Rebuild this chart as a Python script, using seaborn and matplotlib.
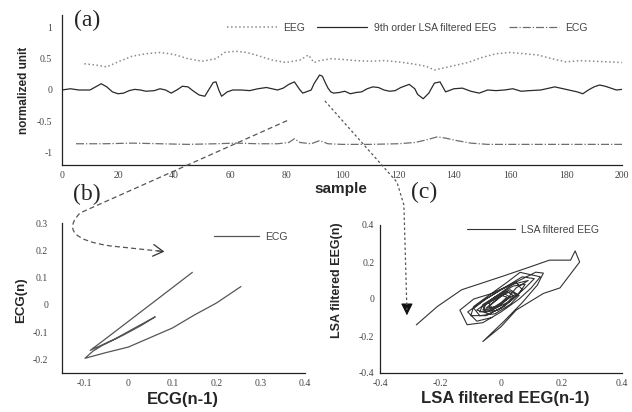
import matplotlib
matplotlib.use("Agg")
import matplotlib.pyplot as plt
import seaborn as sns
import numpy as np
import pandas as pd
from matplotlib.path import Path
from matplotlib.patches import PathPatch

# ---------------- data ----------------
# (a) time series
eeg_sample = [8, 12, 16, 20, 25, 30, 35, 40, 45, 50, 55, 58, 62, 66, 70, 75, 80, 85, 88, 90,
              92, 96, 100, 105, 110, 115, 120, 125, 130, 133, 137, 141, 145, 150, 155, 160,
              165, 170, 175, 180, 185, 190, 195, 200]
eeg_value = [0.42, 0.40, 0.37, 0.45, 0.54, 0.58, 0.60, 0.57, 0.50, 0.46, 0.50, 0.60, 0.62, 0.60,
             0.55, 0.48, 0.44, 0.48, 0.56, 0.44, 0.47, 0.50, 0.49, 0.47, 0.46, 0.47, 0.45, 0.42,
             0.38, 0.32, 0.36, 0.40, 0.44, 0.52, 0.58, 0.60, 0.58, 0.56, 0.50, 0.45, 0.47, 0.46,
             0.45, 0.44]

lsa_sample = [0, 3, 6, 10, 12, 14, 16, 18, 20, 22, 24, 26, 28, 30, 33, 35, 37, 39, 41, 43, 45,
              47, 49, 51, 54, 55, 56, 57, 59, 61, 64, 67, 70, 73, 75, 77, 79, 81, 83, 85, 86,
              89, 90, 92, 93, 94, 95, 96, 97, 99, 101, 103, 105, 107, 109, 111, 113, 115, 117,
              119, 121, 124, 126, 127, 129, 131, 133, 135, 137, 140, 143, 146, 149, 152, 155,
              158, 161, 164, 167, 171, 174, 176, 179, 181, 184, 186, 188, 190, 192, 194, 196,
              198, 200]
lsa_value = [0.0, 0.02, 0.0, 0.0, 0.05, 0.10, 0.05, -0.03, -0.06, -0.05, -0.01, 0.01, 0.0, -0.02,
             -0.01, 0.02, 0.0, -0.05, 0.0, 0.06, 0.05, -0.02, -0.08, -0.10, 0.12, 0.13, 0.0,
             -0.10, -0.03, 0.0, 0.0, -0.01, 0.02, 0.04, 0.02, 0.0, 0.03, 0.09, 0.13, 0.0, -0.05,
             0.0, 0.10, 0.24, 0.22, 0.12, 0.03, -0.03, -0.05, -0.04, -0.02, -0.06, -0.04, -0.03,
             0.02, 0.05, 0.04, 0.0, -0.02, -0.01, 0.04, 0.09, 0.02, -0.07, -0.14, -0.05, 0.11,
             0.13, -0.03, 0.02, 0.03, -0.02, -0.05, 0.0, -0.01, 0.0, 0.02, -0.02, -0.01, 0.0,
             0.03, 0.05, 0.02, 0.0, -0.03, -0.06, 0.0, 0.05, 0.08, 0.06, 0.03, 0.0, 0.01]

ecg_sample = [5, 15, 25, 35, 45, 55, 62, 70, 77, 81, 83, 85, 89, 92, 95, 100, 110, 120, 126,
              130, 134, 137, 141, 146, 152, 160, 170, 180, 190, 200]
ecg_value = [-0.86, -0.86, -0.85, -0.86, -0.87, -0.86, -0.85, -0.86, -0.86, -0.84, -0.78, -0.84,
             -0.86, -0.81, -0.86, -0.87, -0.87, -0.86, -0.84, -0.80, -0.75, -0.77, -0.81, -0.85,
             -0.87, -0.87, -0.87, -0.87, -0.87, -0.87]

a_xticks = [0, 20, 40, 60, 80, 100, 120, 140, 160, 180, 200]
a_yticks = [-1, -0.5, 0, 0.5, 1]
a_yticklabels = ["-1", "-0.5", "0", "0.5", "1"]

# (b) ECG phase plot
b_ecg_prev = [0.145, 0.10, 0.05, 0.00, -0.05, -0.086, -0.07, -0.03, 0.02, 0.061, 0.03, -0.01,
              -0.06, -0.08, -0.098, -0.05, 0.00, 0.05, 0.10, 0.15, 0.20, 0.255]
b_ecg_now = [0.119, 0.063, 0.001, -0.061, -0.123, -0.167, -0.155, -0.125, -0.08, -0.044,
             -0.075, -0.11, -0.15, -0.17, -0.196, -0.175, -0.155, -0.12, -0.085, -0.037,
             0.007, 0.067]
b_xticks = [-0.1, 0, 0.1, 0.2, 0.3, 0.4]
b_xticklabels = ["-0.1", "0", "0.1", "0.2", "0.3", "0.4"]
b_yticks = [-0.2, -0.1, 0, 0.1, 0.2, 0.3]
b_yticklabels = ["-0.2", "-0.1", "0", "0.1", "0.2", "0.3"]

# (c) LSA filtered EEG phase plot
c_eeg_prev = [-0.28, -0.21, -0.13, 0.00, 0.09, 0.16, 0.23, 0.245, 0.26, 0.195, 0.14, 0.05, 0.00,
              -0.06, 0.01, 0.07, 0.12, 0.14, 0.115, 0.06, -0.03, -0.09, -0.136, -0.112, -0.06,
              0.00, 0.06, 0.10, 0.13, 0.063, 0.02, -0.04, -0.09, -0.10, -0.05, 0.01, 0.06, 0.08,
              0.04, -0.01, -0.06, -0.07, -0.03, 0.02, 0.05, 0.03, -0.02, -0.05, -0.06, -0.02,
              0.01, 0.04, 0.02, -0.01, -0.04, -0.03, 0.00, 0.03, 0.01, -0.02, -0.05, -0.01, 0.02,
              0.05, 0.09, 0.04, -0.03, -0.08, -0.04, 0.00, 0.04, 0.07, 0.05, 0.00, -0.05, -0.09,
              -0.07, -0.02, 0.03, 0.06, 0.03, -0.01, -0.04, -0.03, 0.00, 0.02, 0.00, -0.03,
              -0.06, -0.05, -0.01, 0.03, 0.08, 0.11, 0.07, 0.01, -0.06, -0.11, -0.08, -0.03]
c_eeg_now = [-0.14, -0.04, 0.05, 0.12, 0.17, 0.21, 0.21, 0.26, 0.20, 0.06, 0.03, -0.06, -0.15,
             -0.23, -0.12, -0.02, 0.075, 0.14, 0.145, 0.10, 0.03, 0.00, -0.06, -0.139, -0.128,
             -0.07, 0.00, 0.06, 0.12, 0.144, 0.09, 0.02, -0.04, -0.09, -0.09, -0.04, 0.03, 0.08,
             0.07, 0.02, -0.03, -0.07, -0.06, -0.02, 0.03, 0.05, 0.01, -0.03, -0.06, -0.05,
             -0.01, 0.02, 0.04, 0.00, -0.04, -0.06, -0.03, 0.01, 0.03, -0.01, -0.05, -0.04, 0.00,
             0.06, 0.10, 0.08, 0.00, -0.06, -0.08, -0.05, 0.00, 0.05, 0.09, 0.05, 0.00, -0.05,
             -0.09, -0.08, -0.03, 0.02, 0.04, 0.01, -0.02, -0.05, -0.02, 0.01, 0.02, -0.01,
             -0.04, -0.07, -0.06, -0.01, 0.06, 0.11, 0.12, 0.06, -0.01, -0.07, -0.12, -0.10]
c_ticks = [-0.4, -0.2, 0, 0.2, 0.4]
c_ticklabels = ["-0.4", "-0.2", "0", "0.2", "0.4"]

# ---------------- style ----------------
sns.set_theme(style="white")
plt.rcParams['font.family'] = ['Liberation Sans', 'DejaVu Sans']
plt.rcParams['axes.edgecolor'] = '#222222'
plt.rcParams['axes.linewidth'] = 0.9

W, H = 632, 412
fig = plt.figure(figsize=(W / 100, H / 100), dpi=100)
fig.patch.set_facecolor('white')


def rect(l, t, r, b):
    return [l / W, 1 - b / H, (r - l) / W, (b - t) / H]


ax_a = fig.add_axes(rect(62, 15, 622, 165))
ax_b = fig.add_axes(rect(62, 223, 305, 373))
ax_c = fig.add_axes(rect(380, 225, 622, 373))

# ---- (a) ----
sns.lineplot(x=eeg_sample, y=eeg_value, ax=ax_a, color='#8c8c8c', linestyle=':', lw=1.1,
             sort=False, label='EEG')
sns.lineplot(x=lsa_sample, y=lsa_value, ax=ax_a, color='#2a2a2a', linestyle='-', lw=0.9,
             sort=False, label='9th order LSA filtered EEG')
sns.lineplot(x=ecg_sample, y=ecg_value, ax=ax_a, color='#6e6e6e', linestyle='-.', lw=0.9,
             sort=False, label='ECG')
ax_a.set_xlim(0, 200)
ax_a.set_ylim(-1.2, 1.2)
ax_a.set_xticks(a_xticks)
ax_a.set_xticklabels([str(v) for v in a_xticks])
ax_a.set_yticks(a_yticks)
ax_a.set_yticklabels(a_yticklabels)
ax_a.legend(loc='center', bbox_to_anchor=(0.616, 0.913), ncol=3, frameon=False, fontsize=7.5,
            handlelength=4.8, handletextpad=0.6, columnspacing=1.2, labelcolor='#444444')
ax_a.set_xlabel('sample', fontsize=11, fontweight='bold')
ax_a.set_ylabel('normalized unit', fontsize=8.5, fontweight='bold')
ax_a.xaxis.set_label_coords(0.498, -0.115)
ax_a.yaxis.set_label_coords(-0.058, 0.5)

# ---- (b) ----
sns.lineplot(x=b_ecg_prev, y=b_ecg_now, ax=ax_b, color='#555555', lw=0.9, sort=False,
             estimator=None, label='ECG')
ax_b.set_xlim(-0.15, 0.4)
ax_b.set_ylim(-0.25, 0.3)
ax_b.set_xticks(b_xticks)
ax_b.set_xticklabels(b_xticklabels)
ax_b.set_yticks(b_yticks)
ax_b.set_yticklabels(b_yticklabels)
ax_b.legend(loc='center', bbox_to_anchor=(0.778, 0.907), frameon=False, fontsize=7.5,
            handlelength=4.3, handletextpad=0.6, labelcolor='#444444')
ax_b.set_xlabel('ECG(n-1)', fontsize=12, fontweight='bold')
ax_b.set_ylabel('ECG(n)', fontsize=9.5, fontweight='bold')
ax_b.xaxis.set_label_coords(0.498, -0.125)
ax_b.yaxis.set_label_coords(-0.145, 0.487)

# ---- (c) ----
sns.lineplot(x=c_eeg_prev, y=c_eeg_now, ax=ax_c, color='#333333', lw=0.8, sort=False,
             estimator=None, label='LSA filtered EEG')
ax_c.set_xlim(-0.4, 0.4)
ax_c.set_ylim(-0.4, 0.4)
ax_c.set_xticks(c_ticks)
ax_c.set_xticklabels(c_ticklabels)
ax_c.set_yticks(c_ticks)
ax_c.set_yticklabels(c_ticklabels)
ax_c.legend(loc='center', bbox_to_anchor=(0.632, 0.966), frameon=False, fontsize=7.5,
            handlelength=4.6, handletextpad=0.5, labelcolor='#444444')
ax_c.set_xlabel('LSA filtered EEG(n-1)', fontsize=12, fontweight='bold')
ax_c.set_ylabel('LSA filtered EEG(n)', fontsize=9, fontweight='bold')
ax_c.xaxis.set_label_coords(0.517, -0.125)
ax_c.yaxis.set_label_coords(-0.153, 0.63)

for ax, ypad in ((ax_a, 7), (ax_b, 10), (ax_c, 4)):
    for side in ('top', 'right'):
        ax.spines[side].set_visible(False)
    ax.tick_params(axis='both', direction='in', length=3, width=0.7, labelsize=7,
                   labelcolor='#444444', color='#222222')
    ax.tick_params(axis='y', pad=ypad)
    ax.tick_params(axis='x', pad=4)
    for lab in ax.get_xticklabels() + ax.get_yticklabels():
        lab.set_family(['Liberation Serif', 'DejaVu Serif'])

# panel labels
for txt, px, py in (('(a)', 87, 20), ('(b)', 87, 194), ('(c)', 424, 192)):
    fig.text(px / W, 1 - py / H, txt, fontsize=17, ha='center', va='center',
             family=['Liberation Serif', 'DejaVu Serif'])

# ---- connecting arrows (annotation) ----
inv = fig.transFigure.inverted()


def fpt(ax, p):
    return inv.transform(ax.transData.transform(p))


# arrow a -> b
arr1_start_a = (80.4, -0.49)
arr1_pts_b = [(-0.109, 0.337), (-0.164, 0.245), (-0.041, 0.216), (0.07, 0.197)]
verts = [fpt(ax_a, arr1_start_a)] + [fpt(ax_b, p) for p in arr1_pts_b]
codes = [Path.MOVETO, Path.LINETO, Path.CURVE3, Path.CURVE3, Path.LINETO]
fig.add_artist(PathPatch(Path(verts, codes), fill=False, ec='#555555', lw=0.9,
                         linestyle=(0, (4, 2.5)), transform=fig.transFigure))
ax_b.annotate('', xy=(0.088, 0.194), xytext=(0.06, 0.199), annotation_clip=False,
              arrowprops=dict(arrowstyle='->,head_length=0.6,head_width=0.35',
                              color='#333333', lw=0.9))

# arrow a -> c
arr2_start_a = (93.9, -0.175)
arr2_pts_c = [(-0.344, 0.632), (-0.321, 0.508), (-0.311, -0.06)]
verts2 = [fpt(ax_a, arr2_start_a)] + [fpt(ax_c, p) for p in arr2_pts_c]
codes2 = [Path.MOVETO, Path.LINETO, Path.LINETO, Path.LINETO]
fig.add_artist(PathPatch(Path(verts2, codes2), fill=False, ec='#555555', lw=0.9,
                         linestyle=(0, (2, 2)), transform=fig.transFigure))
ax_c.annotate('', xy=(-0.311, -0.103), xytext=(-0.311, -0.055), annotation_clip=False,
              arrowprops=dict(arrowstyle='-|>,head_length=0.6,head_width=0.3',
                              color='#111111', fc='#111111', lw=0.8))

fig.savefig('out.png', dpi=100, facecolor='white')
